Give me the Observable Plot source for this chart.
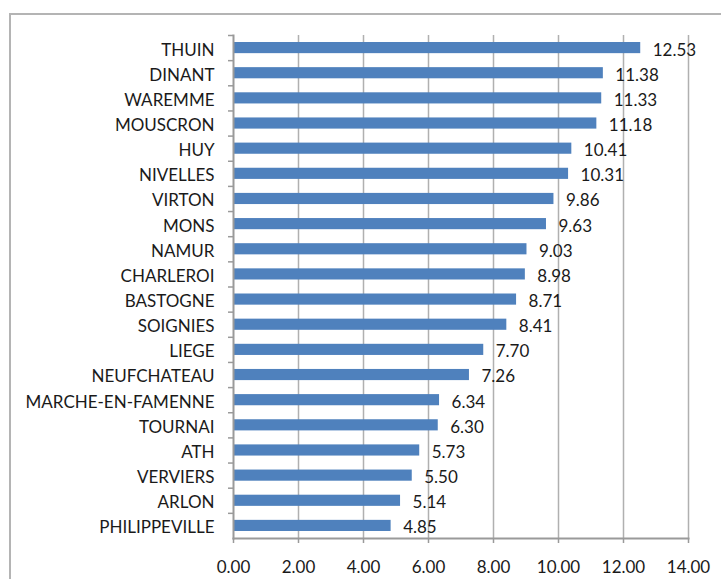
<!DOCTYPE html>
<html>
<head>
<meta charset="utf-8">
<script src="https://cdn.jsdelivr.net/npm/d3@7"></script>
<script src="https://cdn.jsdelivr.net/npm/@observablehq/plot@0.6"></script>
<style>
  html, body { margin: 0; padding: 0; background: #fff; overflow: hidden; width: 721px; height: 579px; }
  #wrap { position: relative; width: 721px; height: 579px; }
  #frame { position: absolute; left: 9px; top: 13px; width: 900px; height: 900px; border: 2px solid #b4b4b4; box-sizing: border-box; }
  #chart { position: absolute; left: 0; top: 0; }
</style>
</head>
<body>
<div id="wrap"><div id="frame"></div><div id="chart"></div></div>
<script>
const cities = ["THUIN","DINANT","WAREMME","MOUSCRON","HUY","NIVELLES","VIRTON","MONS","NAMUR","CHARLEROI","BASTOGNE","SOIGNIES","LIEGE","NEUFCHATEAU","MARCHE-EN-FAMENNE","TOURNAI","ATH","VERVIERS","ARLON","PHILIPPEVILLE"];
const values = [12.53,11.38,11.33,11.18,10.41,10.31,9.86,9.63,9.03,8.98,8.71,8.41,7.70,7.26,6.34,6.30,5.73,5.50,5.14,4.85];
const xTicks = [0,2,4,6,8,10,12,14];

const data = cities.map((c, i) => ({city: c, value: values[i]}));
const W = 721, H = 579;
const mT = 35, mB = 41, mL = 233, mR = 33;
const step = (H - mT - mB) / cities.length;
const fmt = d3.format(".2f");

const chart = Plot.plot({
  width: W, height: H,
  marginTop: mT, marginBottom: mB, marginLeft: mL, marginRight: mR,
  style: {fontFamily: "Lato, 'Noto Sans', sans-serif", fontSize: "17px", color: "#1a1a1a", background: "transparent"},
  x: {domain: [0, 14], ticks: xTicks, tickFormat: fmt},
  y: {domain: cities, padding: 0, round: false},
  marks: [
    Plot.gridX(xTicks.slice(1), {stroke: "#b0b0b0", strokeOpacity: 1, strokeWidth: 1.5}),
    Plot.barX(data, {x: "value", y: "city", fill: "#4F81BD", insetTop: 7, insetBottom: 7}),
    Plot.text(data, {x: "value", y: "city", text: d => fmt(d.value), textAnchor: "start", dx: 12, dy: 2, fill: "#1a1a1a", fontSize: 17}),
    Plot.axisX({ticks: xTicks, tickFormat: fmt, tickSize: 5, tickPadding: 17, stroke: "#9a9a9a", strokeWidth: 1.5, label: null, fill: "#1a1a1a"}),
    Plot.axisY({tickSize: 0, tickPadding: 19, label: null, dy: 2, fill: "#1a1a1a"}),
    Plot.axisY({tickSize: 5, tickFormat: () => "", label: null, dy: -step / 2, stroke: "#9a9a9a", strokeWidth: 1.5}),
    Plot.frame({anchor: "left", stroke: "#9a9a9a", strokeWidth: 2}),
    Plot.frame({anchor: "bottom", stroke: "#9a9a9a", strokeWidth: 2})
  ]
});
document.getElementById("chart").appendChild(chart);
</script>
</body>
</html>
